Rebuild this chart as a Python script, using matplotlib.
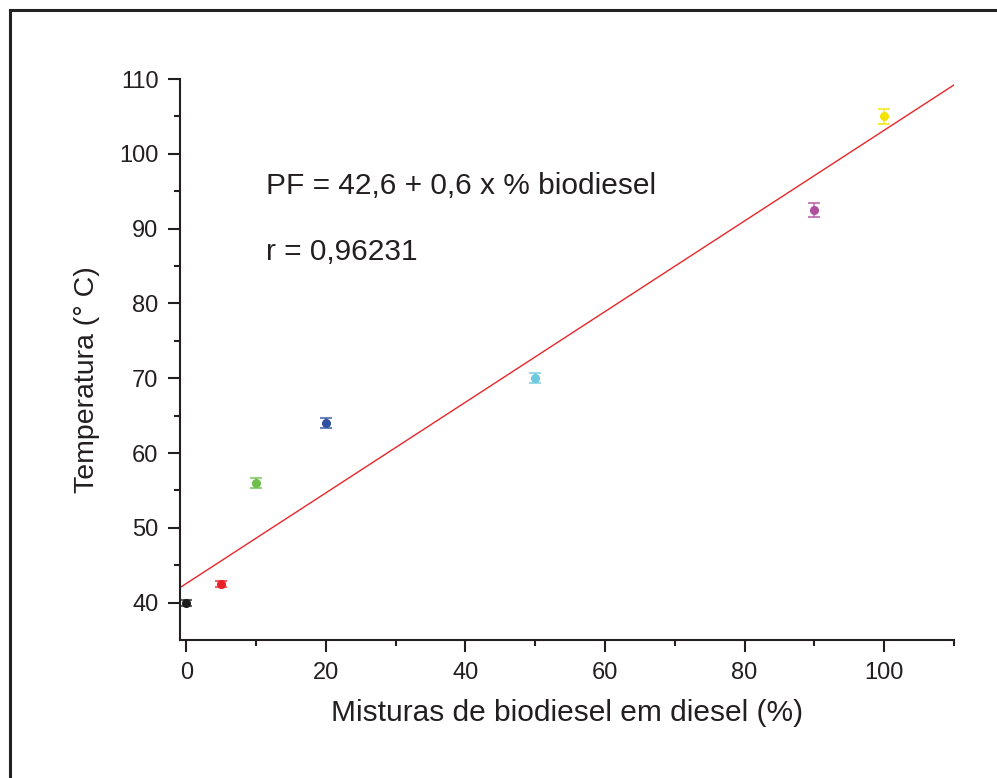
import numpy as np
import matplotlib
matplotlib.use("Agg")
import matplotlib.pyplot as plt
from matplotlib.lines import Line2D

plt.rcParams['font.family'] = ['Liberation Sans', 'DejaVu Sans']

# data
mistura = [0, 5, 10, 20, 50, 90, 100]
temperatura = [40.0, 42.5, 56.0, 64.0, 70.0, 92.5, 105.0]
erro = [0.4, 0.4, 0.65, 0.65, 0.65, 0.9, 1.0]
cores = ['#1e1e1e', '#e8232a', '#6cbf4a', '#2f4f9f', '#6cc9de', '#b04d9f', '#f2e400']

# linear fit shown in the chart
intercepto = 42.55
inclinacao = 0.606

ink = '#231f20'
W, H = 997, 778
fig = plt.figure(figsize=(W / 100, H / 100), dpi=100)
ax = fig.add_axes([180 / W, 1 - 640 / H, (954 - 180) / W, (640 - 79) / H])

xmin, xmax = -0.9, 110
xf = np.array([xmin, xmax])
ax.plot(xf, intercepto + inclinacao * xf, color='#e8262a', lw=1.0, zorder=2)

for x, y, e, c in zip(mistura, temperatura, erro, cores):
    ax.errorbar(x, y, yerr=e, fmt='none', ecolor=c, alpha=0.7,
                elinewidth=1.2, capsize=4.5, capthick=1.5, zorder=3)
    ax.plot(x, y, 'o', color=c, ms=5.5, mec=c, zorder=4)

ax.set_xlim(xmin, xmax)
ax.set_ylim(35, 110)
ax.set_xticks([0, 20, 40, 60, 80, 100])
ax.set_xticks([10, 30, 50, 70, 90, 110], minor=True)
ax.set_yticks([40, 50, 60, 70, 80, 90, 100, 110])
ax.set_yticks([45, 55, 65, 75, 85, 95, 105], minor=True)

for s in ['top', 'right']:
    ax.spines[s].set_visible(False)
for s in ['left', 'bottom']:
    ax.spines[s].set_linewidth(1.5)
    ax.spines[s].set_color(ink)
    ax.spines[s].set_capstyle('projecting')

ax.tick_params(which='major', direction='out', length=8.5, width=1.5,
               color=ink, labelsize=17, labelcolor=ink, pad=7)
ax.tick_params(which='minor', direction='out', length=4.5, width=1.5, color=ink)

ax.set_xlabel('Misturas de biodiesel em diesel (%)', fontsize=21.5, color=ink)
ax.set_ylabel('Temperatura (° C)', fontsize=20.5, color=ink)
ax.xaxis.set_label_coords(0.5, -(713 - 640) / 561, transform=ax.transAxes)
ax.xaxis.label.set_va('center')
ax.yaxis.set_label_coords(-(180 - 87) / 774, (640 - 380) / 561, transform=ax.transAxes)
ax.yaxis.label.set_va('center')

ax.text(11.4, 94.6, 'PF = 42,6 + 0,6 x % biodiesel', fontsize=21.5, color=ink)
ax.text(11.4, 85.8, 'r = 0,96231', fontsize=21.5, color=ink)

# outer frame (only left and top edges visible in the crop)
fig.add_artist(Line2D([10 / W, 10 / W], [0, 1 - 10 / H], transform=fig.transFigure,
                      color='#222222', lw=2.2))
fig.add_artist(Line2D([10 / W, 1], [1 - 10 / H, 1 - 10 / H], transform=fig.transFigure,
                      color='#222222', lw=2.2))

fig.savefig('out.png', dpi=100)
